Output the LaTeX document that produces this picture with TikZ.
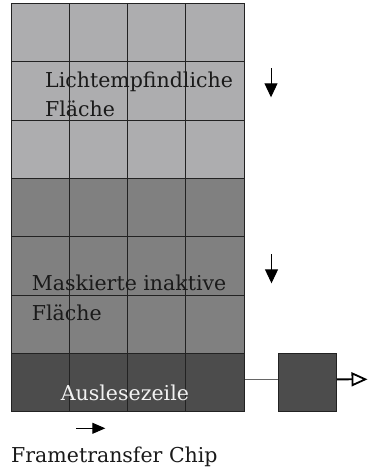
\documentclass[tikz,border=0pt]{standalone}
\usepackage{fontspec}
\setmainfont{DejaVu Serif}
\usetikzlibrary{arrows.meta}
\definecolor{lightcell}{HTML}{ADADAF}
\definecolor{midcell}{HTML}{808080}
\definecolor{darkcell}{HTML}{4C4C4C}
\definecolor{gridline}{HTML}{222222}
\definecolor{txt}{HTML}{1A1A1A}
\definecolor{wtxt}{HTML}{F2F2F2}
\tikzset{
  gridpen/.style={draw=gridline, line width=0.9bp},
  lbl/.style={anchor=base west, inner sep=0pt, text=txt, font=\fontsize{20.5bp}{24bp}\selectfont},
  wlbl/.style={lbl, text=wtxt},
  cellbox/.style={draw=gridline, line width=0.9bp, fill=darkcell, minimum width=58.6bp, minimum height=58.35bp, inner sep=0pt},
  rowbox/.style={draw=gridline, line width=0.9bp, fill=darkcell, minimum width=233.2bp, minimum height=58.35bp, inner sep=0pt},
  downarrow/.style={line width=1bp, draw=black, -{Triangle[length=14bp,width=13bp]}},
  rightarrow/.style={line width=1bp, draw=black, -{Triangle[length=13bp,width=11bp]}},
  conn/.style={draw=gray!80!black, line width=1.6bp},
  outarrow/.style={draw=black, line width=1.8bp, -{Triangle[open, fill=white, length=16bp, width=14bp]}}
}
\begin{document}
\begin{tikzpicture}[x=1bp,y=-1bp]
\useasboundingbox (0,0) rectangle (368,470);
% regions
\fill[lightcell] (11,3.3) rectangle (244.2,178.35);
\fill[midcell] (11,178.35) rectangle (244.2,353.4);
\node[rowbox] (readout) at (127.6,382.575) {};
% grid
\foreach \x in {11,69.3,127.6,185.9,244.2} \draw[gridpen] (\x,3.3) -- (\x,411.75);
\foreach \y in {3.3,61.65,120,178.35,236.7,295.05,353.4,411.75} \draw[gridpen] (11,\y) -- (244.2,\y);
% register box
\node[cellbox] (reg) at (307.3,382.575) {};
% connectors
\draw[conn] ([yshift=3.2bp]readout.east) -- ([yshift=3.2bp]reg.west);
\coordinate (out) at (367.5,379.3);
\draw[outarrow] ([yshift=3.2bp]reg.east) -- (out);
% down arrows
\coordinate (a1s) at (271,68.3);
\coordinate (a1e) at (271,97.3);
\draw[downarrow] (a1s) -- (a1e);
\coordinate (a2s) at (271.5,254);
\coordinate (a2e) at (271.5,283.3);
\draw[downarrow] (a2s) -- (a2e);
\coordinate (a3s) at (76,428.3);
\coordinate (a3e) at (105.3,428.3);
\draw[rightarrow] (a3s) -- (a3e);
% labels
\node[lbl] (licht1) at (45,87.3) {Lichtempfindliche};
\node[lbl] (licht2) at (45,116.7) {Fläche};
\node[lbl] (mask1) at (31.7,290) {Maskierte inaktive};
\node[lbl] (mask2) at (31.7,320) {Fläche};
\node[wlbl] (ausl) at (60.7,400.7) {Auslesezeile};
\node[lbl] (title) at (11,462.3) {Frametransfer Chip};
\end{tikzpicture}
\end{document}
